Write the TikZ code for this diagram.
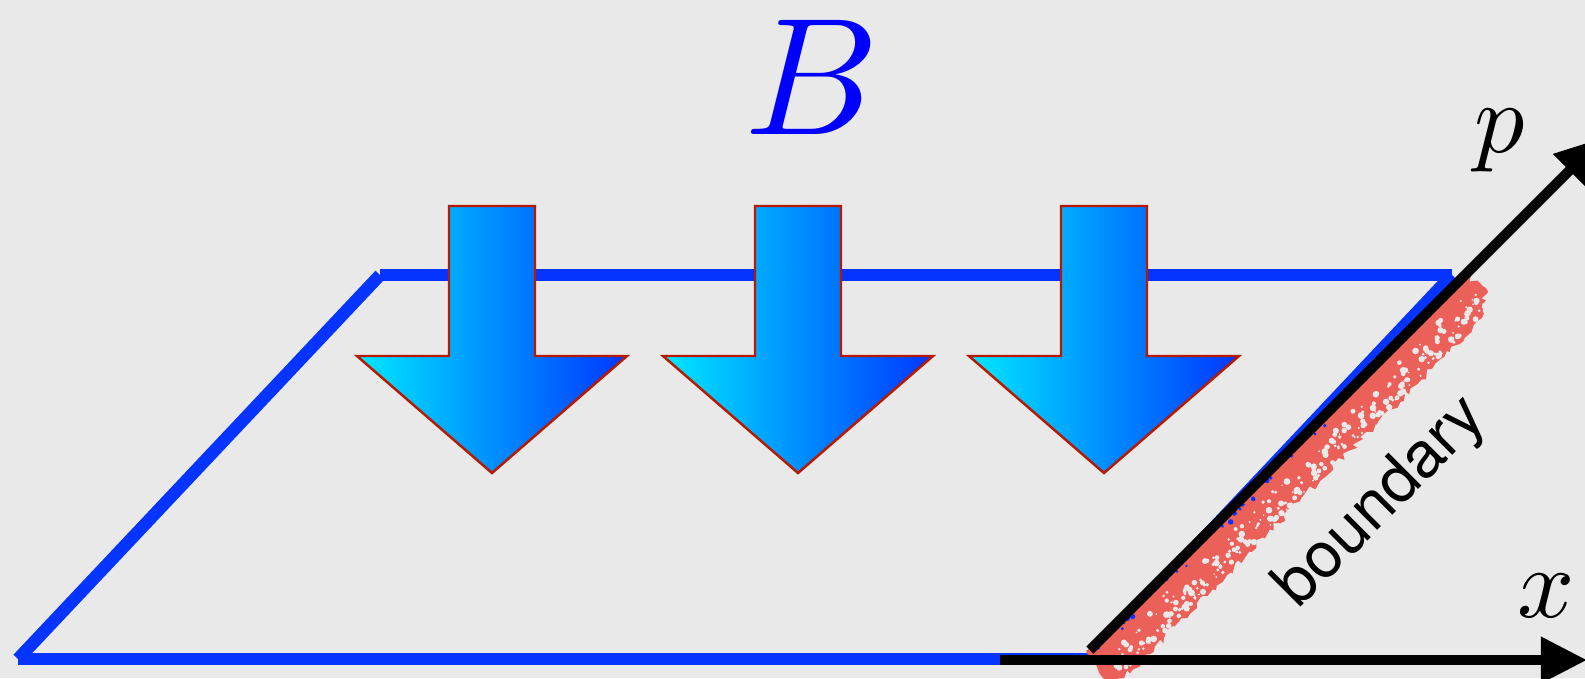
\documentclass[tikz,border=0pt]{standalone}
\usepackage{fontspec}
\newfontfamily\heros{TeX Gyre Heros}
\usetikzlibrary{arrows.meta,decorations.pathmorphing}
\definecolor{bgcol}{HTML}{E9E9E9}
\definecolor{planeblue}{HTML}{0533FF}
\definecolor{arrcyan}{HTML}{00E8FF}
\definecolor{arrblue}{HTML}{0036FF}
\definecolor{arrred}{HTML}{B81A00}
\definecolor{stripered}{HTML}{EC605A}
\definecolor{Bblue}{HTML}{0000FF}
\begin{document}
\begin{tikzpicture}[x=0.01cm,y=-0.01cm,
  plane/.style={draw=planeblue,line width=0.125cm,line cap=butt},
  axisline/.style={draw=black,line width=0.1cm,line cap=butt,-{Triangle[length=0.46cm,width=0.44cm]}},
  bigarrow/.style={left color=arrcyan,right color=arrblue,draw=arrred,line width=0.7pt,line join=miter},
  mathlabel/.style={anchor=base,inner sep=0pt,scale=2.85},
  speck/.style={fill=bgcol}]
\useasboundingbox (0,0) rectangle (1585,678);
\clip (0,0) rectangle (1585,678);
\fill[bgcol] (0,0) rectangle (1585,678);

% plane (parallelogram)
\coordinate (BL) at (18,659);
\coordinate (TL) at (380,275);
\coordinate (TR) at (1452,275);
\coordinate (BR) at (1090,659);
\draw[plane] (BL) -- (TL);
\draw[plane] (TL) -- (TR);
\draw[plane] (TR) -- (BR);
\draw[plane] (BL) -- (BR);

% red rough boundary stripe
\fill[stripered,decorate,decoration={random steps,segment length=1.4pt,amplitude=1pt}]
  (1086,651) -- (1103,678) -- (1124,678) -- (1482,318) -- (1486,288) -- (1463,274) -- cycle;
\pgfmathsetseed{4242}
\foreach \i in {1,...,280}{
  \pgfmathsetmacro{\ss}{5+rnd*520}
  \pgfmathsetmacro{\dd}{13+27*sqrt(rnd)}
  \pgfmathsetmacro{\rr}{0.8+rnd*2.6}
  \fill[speck] ({1090+0.707*(\ss+\dd)},{650+0.707*(\dd-\ss)}) circle (\rr);
}
\foreach \i in {1,...,22}{
  \pgfmathsetmacro{\ss}{5+rnd*330}
  \pgfmathsetmacro{\dd}{4+rnd*5}
  \pgfmathsetmacro{\rr}{1+rnd*2}
  \fill[planeblue] ({1090+0.707*(\ss+\dd)},{650+0.707*(\dd-\ss)}) circle (\rr);
}

% field arrows
\foreach \cx in {492,798,1104}{
  \pgfmathsetmacro{\shl}{\cx-43}
  \pgfmathsetmacro{\shr}{\cx+43}
  \pgfmathsetmacro{\hdl}{\cx-135}
  \pgfmathsetmacro{\hdr}{\cx+135}
  \filldraw[bigarrow] (\shl,206) -- (\shr,206) -- (\shr,356) -- (\hdr,356)
     -- (\cx,473) -- (\hdl,356) -- (\shl,356) -- cycle;
}

% axes
\coordinate (xstart) at (1000,660);
\coordinate (xend) at (1587,660);
\coordinate (pstart) at (1090,650);
\coordinate (pend) at (1602,138);
\draw[axisline] (xstart) -- (xend);
\draw[axisline] (pstart) -- (pend);

% labels
\node[mathlabel] (plab) at (1500,152) {$p$};
\node[mathlabel] (xlab) at (1546,617) {$x$};
\node[anchor=base,inner sep=0pt,text=Bblue,scale=4.75] (Blab) at (812,134) {$B$};
\node[rotate=45,inner sep=0pt,font=\heros\fontsize{18.2}{21}\selectfont] (bnd) at (1382,503) {boundary};
\end{tikzpicture}
\end{document}
